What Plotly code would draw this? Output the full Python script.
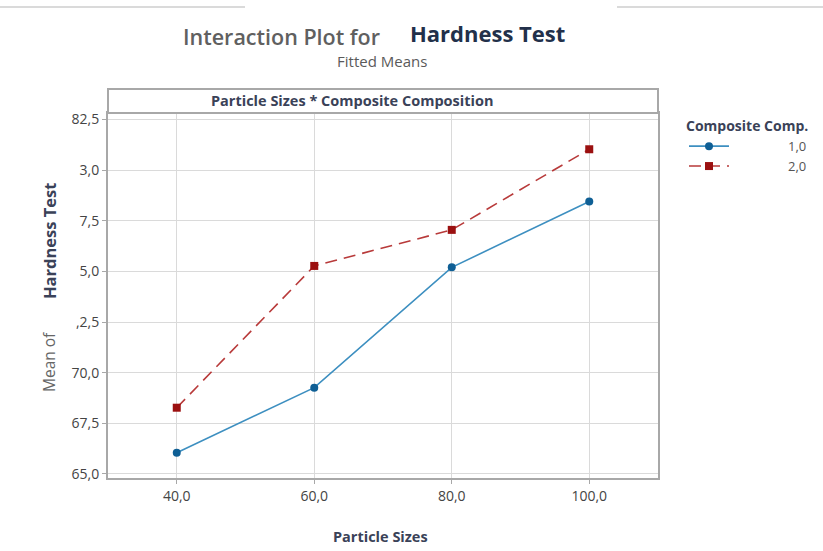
import plotly.graph_objects as go

particle_sizes = [40, 60, 80, 100]
x_tick_text = ["40,0", "60,0", "80,0", "100,0"]
comp_1_means = [66.05, 69.26, 75.2, 78.45]
comp_2_means = [68.27, 75.27, 77.05, 81.03]
y_tick_vals = [65.0, 67.5, 70.0, 72.5, 75.0, 77.5, 80.0, 82.5]
y_tick_text = ["65,0", "67,5", "70,0", ",2,5", "5,0", "7,5", "3,0", "82,5"]
legend_labels = ["1,0", "2,0"]

W, H = 823, 551
L, R, T, B = 108, 658, 113, 478
PW, PH = R - L, B - T

def px_x(p):
    return (p - L) / PW

def px_y(p):
    return (B - p) / PH

FONT = "Open Sans"
pad = "\u00a0" * 16

fig = go.Figure()
fig.add_trace(go.Scatter(
    x=particle_sizes, y=comp_1_means, mode="lines+markers",
    name=pad + legend_labels[0],
    line=dict(color="#3d8fc0", width=1.6),
    marker=dict(symbol="circle", size=8, color="#0f5f95"),
))
fig.add_trace(go.Scatter(
    x=particle_sizes, y=comp_2_means, mode="lines+markers",
    name=pad + legend_labels[1],
    line=dict(color="#b83a3a", width=1.6, dash="12px,7px"),
    marker=dict(symbol="square", size=8, color="#9b1010"),
))

axis_common = dict(
    showgrid=True, gridcolor="#dadada", gridwidth=1,
    showline=True, linecolor="#a8a8a8", linewidth=2, mirror=True,
    ticks="outside", ticklen=4, tickcolor="#a8a8a8",
    tickfont=dict(family=FONT, size=14, color="#444444"),
    zeroline=False,
)

fig.update_layout(
    width=W, height=H,
    margin=dict(l=L, r=W - R, t=T, b=H - B, pad=0, autoexpand=False),
    paper_bgcolor="white", plot_bgcolor="white",
    xaxis=dict(range=[30, 110], tickvals=particle_sizes, ticktext=x_tick_text, **axis_common),
    yaxis=dict(range=[64.8, 82.82], tickvals=y_tick_vals, ticktext=y_tick_text, **axis_common),
    showlegend=True,
    legend=dict(
        x=px_x(684), y=px_y(113), xanchor="left", yanchor="top",
        title=dict(text="<b>Composite Comp.</b>", font=dict(family=FONT, size=14, color="#3a4258")),
        font=dict(family=FONT, size=13, color="#555555"),
        itemwidth=40, bgcolor="rgba(0,0,0,0)",
        tracegroupgap=0,
    ),
    font=dict(family=FONT),
)

# Header strip above plot
fig.add_shape(type="rect", xref="paper", yref="paper",
              x0=0, x1=1, y0=1, y1=px_y(89),
              line=dict(color="#a8a8a8", width=2), fillcolor="white", layer="above")

# Top screenshot lines
fig.add_shape(type="line", xref="paper", yref="paper",
              x0=px_x(0), x1=px_x(245), y0=px_y(7), y1=px_y(7),
              line=dict(color="#b5b5b5", width=1))
fig.add_shape(type="line", xref="paper", yref="paper",
              x0=px_x(617), x1=px_x(823), y0=px_y(7), y1=px_y(7),
              line=dict(color="#b5b5b5", width=1))

ann = [
    dict(text="Interaction Plot for", x=px_x(281), y=px_y(36),
         font=dict(family=FONT, size=21.5, color="#606060", weight=600)),
    dict(text="<b>Hardness Test</b>", x=px_x(487), y=px_y(33),
         font=dict(family=FONT, size=22, color="#22304a")),
    dict(text="Fitted Means", x=px_x(382), y=px_y(61),
         font=dict(family=FONT, size=15, color="#5a5a5a")),
    dict(text="<b>Particle Sizes * Composite Composition</b>", x=px_x(352), y=px_y(101),
         font=dict(family=FONT, size=14.5, color="#3a4258")),
    dict(text="<b>Particle Sizes</b>", x=px_x(380), y=px_y(536),
         font=dict(family=FONT, size=14.5, color="#3a4258")),
    dict(text="Mean of", x=px_x(49), y=px_y(362), textangle=-90,
         font=dict(family=FONT, size=15.5, color="#666666")),
    dict(text="<b>Hardness Test</b>", x=px_x(49), y=px_y(241), textangle=-90,
         font=dict(family=FONT, size=16.5, color="#3a4258")),
]
for a in ann:
    fig.add_annotation(xref="paper", yref="paper", showarrow=False,
                       xanchor="center", yanchor="middle", **a)

fig.write_html("out.html")
